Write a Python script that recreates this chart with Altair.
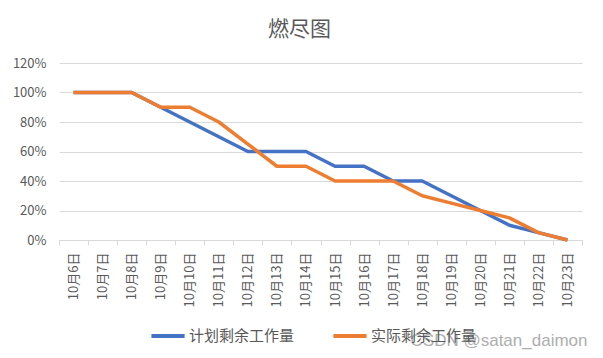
import altair as alt
import pandas as pd

dates = ["10月6日", "10月7日", "10月8日", "10月9日", "10月10日", "10月11日",
         "10月12日", "10月13日", "10月14日", "10月15日", "10月16日", "10月17日",
         "10月18日", "10月19日", "10月20日", "10月21日", "10月22日", "10月23日"]
plan = [1.0, 1.0, 1.0, 0.9, 0.8, 0.7, 0.6, 0.6, 0.6, 0.5, 0.5, 0.4, 0.4, 0.3, 0.2, 0.1, 0.05, 0.0]
actual = [1.0, 1.0, 1.0, 0.9, 0.9, 0.8, 0.65, 0.5, 0.5, 0.4, 0.4, 0.4, 0.3, 0.25, 0.2, 0.15, 0.05, 0.0]
series_names = ["计划剩余工作量", "实际剩余工作量"]
series_colors = ["#4472C4", "#ED7D31"]
y_ticks = [0, 0.2, 0.4, 0.6, 0.8, 1.0, 1.2]

rows = []
for name, vals in zip(series_names, [plan, actual]):
    for d, v in zip(dates, vals):
        rows.append({"date": d, "value": v, "series": name})
df = pd.DataFrame(rows)

FONT = "Noto Sans CJK SC"

lines = alt.Chart(df).mark_line(strokeWidth=3.5, strokeJoin="round").encode(
    x=alt.X("date:N", sort=dates, bandPosition=0.5,
            scale=alt.Scale(type="band", paddingInner=0, paddingOuter=0),
            axis=alt.Axis(title=None, labelAngle=270, tickBand="extent",
                          labelFont=FONT, labelFontSize=13, labelColor="#595959",
                          domainColor="#d9d9d9", tickColor="#d9d9d9", tickSize=5,
                          labelPadding=7, grid=False)),
    y=alt.Y("value:Q", scale=alt.Scale(domain=[0, 1.2], nice=False),
            axis=alt.Axis(title=None, format=".0%", values=y_ticks, domain=False,
                          ticks=False, gridColor="#d9d9d9", labelFont=FONT,
                          labelFontSize=13, labelColor="#595959", labelPadding=13)),
    color=alt.Color("series:N", sort=series_names,
                    scale=alt.Scale(domain=series_names, range=series_colors),
                    legend=alt.Legend(title=None, orient="none", direction="horizontal",
                                      legendX=90, legendY=254, symbolType="stroke",
                                      symbolSize=1100, symbolStrokeWidth=4,
                                      labelFont=FONT, labelFontSize=15,
                                      labelColor="#595959", labelOffset=2,
                                      columnPadding=30, labelLimit=200)),
)

watermark = alt.Chart(pd.DataFrame({"t": ["CSDN @satan_daimon"]})).mark_text(
    fontSize=17, color="#9a9a9a", opacity=0.8, font="Liberation Sans"
).encode(text="t:N", x=alt.value(440), y=alt.value(278))

chart = alt.layer(lines, watermark).properties(
    width=523, height=177,
    autosize=alt.AutoSizeParams(type="none"),
    padding={"left": 51, "top": 55, "right": 13, "bottom": 112},
    title=alt.Title("燃尽图", font=FONT, fontSize=21, fontWeight="normal",
                    color="#595959", anchor="middle", dx=-21, offset=17),
).configure_view(stroke=None)

chart.save("out.html", embed_options={"renderer": "svg", "actions": False})
